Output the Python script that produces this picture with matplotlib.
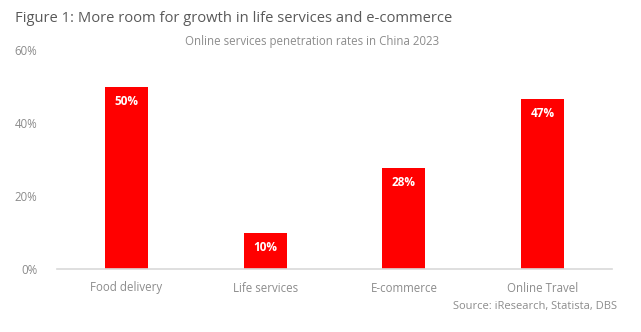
import matplotlib.pyplot as plt
from matplotlib.ticker import FuncFormatter

categories = ['Food delivery', 'Life services', 'E-commerce', 'Online Travel']
rates = [49.8, 9.9, 27.7, 46.6]
yticks = [0, 20, 40, 60]

plt.rcParams['font.family'] = ['Open Sans', 'DejaVu Sans']

fig = plt.figure(figsize=(6.41, 3.32), dpi=100)
ax = fig.add_axes([57 / 641, 1 - 269 / 332, 555 / 641, 219 / 332])

x = range(len(categories))
ax.bar(x, rates, width=0.31, color='#ff0000')
for i, v in zip(x, rates):
    ax.text(i, v - 2.2, f'{round(v)}%', ha='center', va='top', color='white',
            fontsize=8.5, fontweight='bold')

ax.set_xlim(-0.5, len(categories) - 0.5)
ax.set_ylim(0, 60)
ax.set_yticks(yticks)
ax.yaxis.set_major_formatter(FuncFormatter(lambda v, p: f'{v:.0f}%'))
ax.set_xticks(list(x))
ax.set_xticklabels(categories)
ax.tick_params(axis='both', length=0, colors='#8c8c8c', labelsize=8.3)
ax.tick_params(axis='x', pad=9)
ax.tick_params(axis='y', pad=14)
for s in ['top', 'right', 'left']:
    ax.spines[s].set_visible(False)
ax.spines['bottom'].set_color('#d9d9d9')
ax.spines['bottom'].set_linewidth(1.2)

fig.text(15 / 641, 1 - 18 / 332, 'Figure 1: More room for growth in life services and e-commerce',
         fontsize=10.6, color='#595959', va='center', ha='left')
fig.text(312 / 641, 1 - 41 / 332, 'Online services penetration rates in China 2023',
         fontsize=8.3, color='#8c8c8c', va='center', ha='center')
fig.text(617 / 641, 1 - 306 / 332, 'Source: iResearch, Statista, DBS',
         fontsize=8, color='#8c8c8c', va='center', ha='right')

fig.savefig('out.png', dpi=100)
